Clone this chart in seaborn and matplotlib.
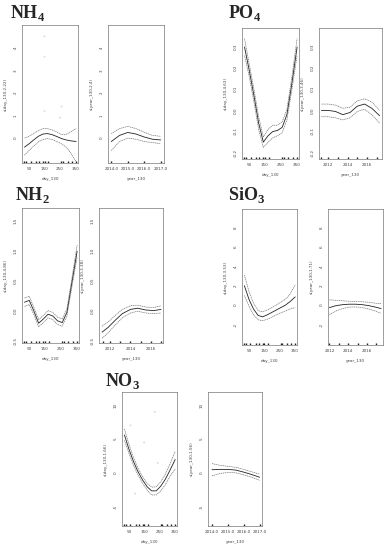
import numpy as np
import pandas as pd
import seaborn as sns
import matplotlib.pyplot as plt

# smooth terms
day_knots = [20, 50, 80, 110, 140, 170, 200, 230, 260, 290, 320, 355]

nh4_day_fit = [-0.4, -0.25, -0.08, 0.08, 0.18, 0.2, 0.15, 0.07, -0.02, -0.08, -0.12, -0.15]
nh4_day_hi = [0.0, 0.08, 0.2, 0.33, 0.42, 0.42, 0.36, 0.27, 0.16, 0.17, 0.28, 0.42]
nh4_day_lo = [-0.75, -0.55, -0.35, -0.17, -0.06, -0.02, -0.06, -0.15, -0.25, -0.4, -0.65, -1.05]
nh4_year_knots = [2014.0, 2014.5, 2015.0, 2015.5, 2016.0, 2016.5, 2017.0]
nh4_year_fit = [-0.15, 0.12, 0.25, 0.18, 0.05, -0.05, -0.08]
nh4_year_hi = [0.2, 0.42, 0.52, 0.42, 0.26, 0.12, 0.08]
nh4_year_lo = [-0.55, -0.15, 0.0, -0.05, -0.15, -0.2, -0.24]

po4_day_fit = [0.30, 0.19, 0.07, -0.06, -0.15, -0.12, -0.1, -0.095, -0.08, -0.02, 0.12, 0.3]
po4_day_hi = [0.34, 0.22, 0.1, -0.03, -0.125, -0.09, -0.07, -0.07, -0.055, 0.005, 0.15, 0.34]
po4_day_lo = [0.26, 0.16, 0.04, -0.09, -0.175, -0.15, -0.13, -0.12, -0.105, -0.045, 0.09, 0.26]
po4_year_knots = [2011.3, 2012.0, 2012.75, 2013.5, 2014.25, 2015.0, 2015.75, 2016.5, 2017.3]
po4_year_fit = [0.0, 0.0, -0.005, -0.02, -0.01, 0.02, 0.03, 0.01, -0.025]
po4_year_hi = [0.03, 0.03, 0.025, 0.01, 0.015, 0.045, 0.055, 0.04, 0.0]
po4_year_lo = [-0.03, -0.03, -0.035, -0.045, -0.035, -0.005, 0.005, -0.02, -0.06]

nh2_day_fit = [0.15, 0.18, 0.0, -0.2, -0.13, -0.05, -0.08, -0.16, -0.19, -0.02, 0.45, 1.0]
nh2_day_hi = [0.22, 0.25, 0.06, -0.14, -0.07, 0.01, -0.02, -0.1, -0.13, 0.04, 0.52, 1.1]
nh2_day_lo = [0.08, 0.11, -0.06, -0.26, -0.19, -0.11, -0.14, -0.22, -0.25, -0.08, 0.38, 0.9]
nh2_year_knots = [2011.2, 2011.8, 2012.5, 2013.2, 2014.0, 2014.7, 2015.5, 2016.3, 2017.0]
nh2_year_fit = [-0.35, -0.27, -0.15, -0.04, 0.03, 0.05, 0.02, 0.01, 0.03]
nh2_year_hi = [-0.25, -0.18, -0.07, 0.03, 0.09, 0.1, 0.07, 0.06, 0.09]
nh2_year_lo = [-0.45, -0.36, -0.23, -0.11, -0.03, 0.0, -0.03, -0.04, -0.03]

sio3_day_fit = [2.0, 0.6, -0.4, -1.05, -1.2, -1.0, -0.75, -0.5, -0.25, 0.0, 0.35, 0.85]
sio3_day_hi = [3.1, 1.4, 0.2, -0.55, -0.7, -0.5, -0.25, 0.0, 0.3, 0.6, 1.1, 2.1]
sio3_day_lo = [1.0, -0.1, -1.0, -1.5, -1.6, -1.45, -1.25, -1.0, -0.8, -0.6, -0.4, -0.25]
sio3_year_knots = [2012.0, 2012.7, 2013.4, 2014.1, 2014.8, 2015.5, 2016.2, 2016.9, 2017.5]
sio3_year_fit = [-0.25, -0.05, 0.05, 0.1, 0.1, 0.05, -0.05, -0.2, -0.35]
sio3_year_hi = [0.55, 0.5, 0.45, 0.4, 0.38, 0.35, 0.3, 0.2, 0.15]
sio3_year_lo = [-1.0, -0.6, -0.35, -0.2, -0.18, -0.25, -0.4, -0.6, -0.85]

no3_day_fit = [5.6, 3.5, 1.7, 0.2, -1.0, -2.0, -2.6, -2.6, -1.9, -0.9, 0.4, 2.0]
no3_day_hi = [6.5, 4.2, 2.3, 0.7, -0.5, -1.5, -2.05, -2.0, -1.25, -0.15, 1.3, 3.2]
no3_day_lo = [4.8, 2.9, 1.15, -0.3, -1.5, -2.5, -3.2, -3.2, -2.6, -1.7, -0.5, 0.6]
no3_year_knots = [2014.0, 2014.5, 2015.0, 2015.5, 2016.0, 2016.5, 2017.0]
no3_year_fit = [0.5, 0.55, 0.55, 0.45, 0.15, -0.2, -0.6]
no3_year_hi = [1.4, 1.15, 1.0, 0.85, 0.55, 0.2, -0.15]
no3_year_lo = [-0.4, -0.05, 0.1, 0.05, -0.25, -0.6, -1.05]

# rug positions of sampling dates
day_rug = [18, 30, 60, 95, 115, 140, 150, 175, 260, 270, 300, 330, 352]
year_rug_short = [2014.0, 2015.0, 2016.0, 2017.0]
year_rug_long = [2011.3, 2012.0, 2013.0, 2014.0, 2015.0, 2016.0, 2017.0]

# faint partial residuals (only the visible ones)
nh4_res_x = [150, 150, 150, 250, 260]
nh4_res_y = [4.5, 3.6, 1.2, 0.9, 1.4]
no3_res_x = [150, 220, 240, 60, 90]
no3_res_y = [4.5, 9.0, 1.5, 7.0, -3.0]

def draw_panel(fig, box, x, fit, hi, lo, rug, xlim, ylim, xticks, yticks,
               xlabel, ylabel, xfmt='{:g}', yfmt='{:g}', res=None):
    l, t, r, b = box
    W, H = 386, 550
    ax = fig.add_axes([l / W, 1 - b / H, (r - l) / W, (b - t) / H])
    df = pd.DataFrame({'x': x, 'fit': fit, 'hi': hi, 'lo': lo})
    if res is not None:
        sns.scatterplot(x=res[0], y=res[1], ax=ax, s=2, color='#dcdcdc',
                        edgecolor='none', legend=False)
    sns.lineplot(data=df, x='x', y='fit', ax=ax, color='#222222', lw=0.6)
    sns.lineplot(data=df, x='x', y='hi', ax=ax, color='#666666', lw=0.45, linestyle=(0, (2, 1)))
    sns.lineplot(data=df, x='x', y='lo', ax=ax, color='#666666', lw=0.45, linestyle=(0, (2, 1)))
    sns.rugplot(x=rug, ax=ax, height=0.015, color='#222222', lw=0.6)
    ax.set_xlim(xlim)
    ax.set_ylim(ylim)
    ax.set_xticks(xticks)
    ax.set_xticklabels([xfmt.format(v) for v in xticks])
    ax.set_yticks(yticks)
    ax.set_yticklabels([yfmt.format(v) for v in yticks], rotation=90, va='center')
    ax.tick_params(labelsize=3.0, length=1.5, width=0.4, pad=1.5, colors='#666666',
                   labelcolor='#444444')
    for s in ax.spines.values():
        s.set_linewidth(0.5)
        s.set_color('#777777')
    ax.set_xlabel(xlabel, fontsize=3.0, color='#444444', labelpad=4)
    ax.set_ylabel(ylabel, fontsize=3.0, color='#444444', labelpad=4)
    ax.grid(False)
    ax.set_facecolor('white')
    return ax

def main():
    sns.set_theme(style='white')
    plt.rcParams['font.family'] = ['DejaVu Sans']
    fig = plt.figure(figsize=(3.86, 5.5), dpi=100)

    day_ticks = [50, 150, 250, 350]
    day_lim = (4, 367)

    # NH4
    draw_panel(fig, (22, 25, 78, 163), day_knots, nh4_day_fit, nh4_day_hi, nh4_day_lo,
               day_rug, day_lim, (-1.1, 5.0), day_ticks, [0, 1, 2, 3, 4],
               'day_130', 's(day_130,2.22)', res=(nh4_res_x, nh4_res_y))
    draw_panel(fig, (108, 25, 164, 163), nh4_year_knots, nh4_year_fit, nh4_year_hi, nh4_year_lo,
               year_rug_short, (2013.8, 2017.2), (-1.1, 5.0), [2014, 2015, 2016, 2017], [0, 1, 2, 3, 4],
               'year_130', 's(year_130,2.4)', xfmt='{:.1f}')

    # PO4
    po4_yt = [-0.2, -0.1, 0.0, 0.1, 0.2, 0.3]
    draw_panel(fig, (242, 28, 299, 159), day_knots, po4_day_fit, po4_day_hi, po4_day_lo,
               day_rug, day_lim, (-0.23, 0.39), day_ticks, po4_yt,
               'day_130', 's(day_130,4.63)', yfmt='{:.1f}')
    draw_panel(fig, (319, 28, 382, 159), po4_year_knots, po4_year_fit, po4_year_hi, po4_year_lo,
               year_rug_long, (2011.05, 2017.55), (-0.23, 0.39), [2012, 2014, 2016], po4_yt,
               'year_130', 's(year_130,3.46)', yfmt='{:.1f}')

    # NH2
    nh2_yt = [-0.5, 0.0, 0.5, 1.0, 1.5]
    draw_panel(fig, (22, 208, 79, 343), day_knots, nh2_day_fit, nh2_day_hi, nh2_day_lo,
               day_rug, day_lim, (-0.53, 1.72), day_ticks, nh2_yt,
               'day_130', 's(day_130,4.86)', yfmt='{:.1f}')
    draw_panel(fig, (99, 208, 163, 343), nh2_year_knots, nh2_year_fit, nh2_year_hi, nh2_year_lo,
               year_rug_long, (2010.9, 2017.2), (-0.53, 1.72), [2012, 2014, 2016], nh2_yt,
               'year_130', 's(year_130,3.38)', yfmt='{:.1f}')

    # SiO3
    sio3_yt = [-2, 0, 2, 4, 6, 8]
    draw_panel(fig, (242, 209, 297, 345), day_knots, sio3_day_fit, sio3_day_hi, sio3_day_lo,
               day_rug, day_lim, (-4.1, 9.9), day_ticks, sio3_yt,
               'day_130', 's(day_130,3.53)')
    draw_panel(fig, (328, 209, 383, 345), sio3_year_knots, sio3_year_fit, sio3_year_hi, sio3_year_lo,
               year_rug_long, (2011.85, 2017.7), (-4.1, 9.9), [2012, 2014, 2016], sio3_yt,
               'year_130', 's(year_130,1.71)')

    # NO3
    no3_yt = [-5, 0, 5, 10]
    draw_panel(fig, (122, 392, 177, 526), day_knots, no3_day_fit, no3_day_hi, no3_day_lo,
               day_rug, day_lim, (-7.75, 11.9), day_ticks, no3_yt,
               'day_130', 's(day_130,1.66)', res=(no3_res_x, no3_res_y))
    draw_panel(fig, (208, 392, 262, 526), no3_year_knots, no3_year_fit, no3_year_hi, no3_year_lo,
               year_rug_short, (2013.75, 2017.15), (-7.75, 11.9), [2014, 2015, 2016, 2017], no3_yt,
               'year_130', 's(year_130,1.56)', xfmt='{:.1f}')

    # nutrient labels
    tkw = dict(fontsize=13, fontweight='bold', family='Liberation Serif', va='top', ha='left')
    for label, (px, py) in [('NH$_\\mathregular{4}$', (10, 3)),
                            ('PO$_\\mathregular{4}$', (228, 3)),
                            ('NH$_\\mathregular{2}$', (15, 185)),
                            ('SiO$_\\mathregular{3}$', (228, 185)),
                            ('NO$_\\mathregular{3}$', (105, 371))]:
        fig.text(px / 386, 1 - py / 550, label, **tkw)

    fig.savefig('out.png', dpi=100, facecolor='white')

if __name__ == '__main__':
    main()
